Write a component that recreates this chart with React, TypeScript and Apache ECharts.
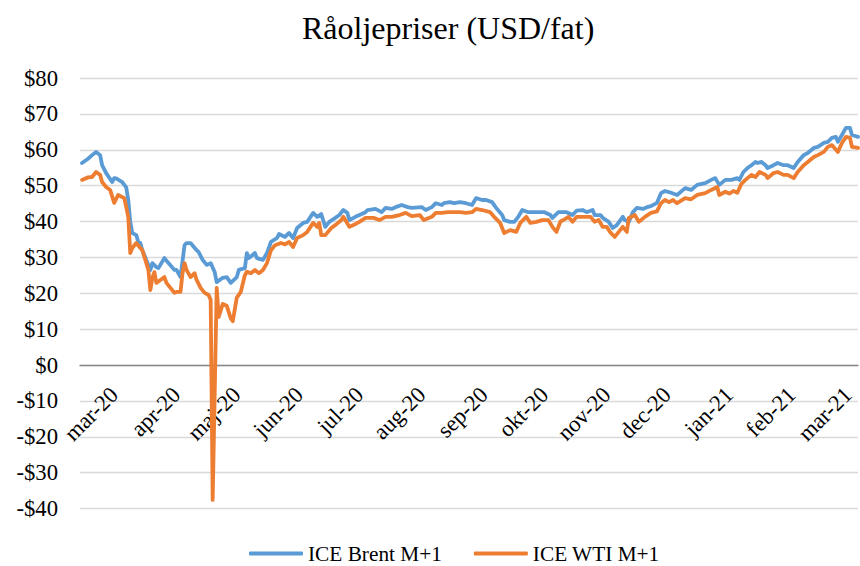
import React, { useEffect, useRef } from "react";
import * as echarts from "echarts";

const title = "Råoljepriser (USD/fat)";
const monthNames = ["jan", "feb", "mar", "apr", "maj", "jun", "jul", "aug", "sep", "okt", "nov", "dec"];
const yTicks = { min: -40, max: 80, interval: 10 };

const brentDates = [
  "2020-02-14","2020-02-17","2020-02-19","2020-02-21","2020-02-23","2020-02-24","2020-02-26","2020-02-29",
  "2020-03-01","2020-03-02","2020-03-05","2020-03-07","2020-03-08","2020-03-09","2020-03-10","2020-03-12",
  "2020-03-13","2020-03-14","2020-03-15","2020-03-17","2020-03-19","2020-03-20","2020-03-22","2020-03-23",
  "2020-03-26","2020-03-28","2020-03-31","2020-04-01","2020-04-03","2020-04-05","2020-04-06","2020-04-08",
  "2020-04-11","2020-04-12","2020-04-14","2020-04-16","2020-04-18","2020-04-20","2020-04-21","2020-04-24",
  "2020-04-26","2020-04-28","2020-05-01","2020-05-02","2020-05-05","2020-05-06","2020-05-07","2020-05-10",
  "2020-05-11","2020-05-14","2020-05-16","2020-05-18","2020-05-21","2020-05-22","2020-05-25","2020-05-27",
  "2020-05-29","2020-05-31","2020-06-03","2020-06-05","2020-06-08","2020-06-10","2020-06-12","2020-06-14",
  "2020-06-16","2020-06-19","2020-06-21","2020-06-23","2020-06-25","2020-06-26","2020-06-29","2020-07-01",
  "2020-07-04","2020-07-05","2020-07-09","2020-07-12","2020-07-14","2020-07-17","2020-07-19","2020-07-22",
  "2020-07-25","2020-07-27","2020-08-01","2020-08-03","2020-08-06","2020-08-08","2020-08-11","2020-08-12",
  "2020-08-15","2020-08-17","2020-08-20","2020-08-23","2020-08-26","2020-08-28","2020-08-31","2020-09-02",
  "2020-09-05","2020-09-07","2020-09-10","2020-09-11","2020-09-14","2020-09-16","2020-09-18","2020-09-20",
  "2020-09-23","2020-09-25","2020-09-29","2020-10-01","2020-10-04","2020-10-05","2020-10-08","2020-10-10",
  "2020-10-12","2020-10-15","2020-10-17","2020-10-20","2020-10-22","2020-10-25","2020-10-26","2020-10-29",
  "2020-10-30","2020-11-02","2020-11-04","2020-11-06","2020-11-09","2020-11-10","2020-11-12","2020-11-14",
  "2020-11-16","2020-11-19","2020-11-21","2020-11-23","2020-11-26","2020-11-28","2020-11-30","2020-12-02",
  "2020-12-06","2020-12-10","2020-12-13","2020-12-16","2020-12-20","2020-12-23","2020-12-25","2020-12-27",
  "2020-12-30","2021-01-02","2021-01-05","2021-01-06","2021-01-08","2021-01-10","2021-01-12","2021-01-14",
  "2021-01-15","2021-01-17","2021-01-19","2021-01-20","2021-01-23","2021-01-25","2021-01-28","2021-01-30",
  "2021-02-02","2021-02-04","2021-02-07","2021-02-09","2021-02-12","2021-02-14","2021-02-17","2021-02-19",
  "2021-02-21","2021-02-23","2021-02-24","2021-02-26","2021-02-28","2021-03-02","2021-03-03","2021-03-06"
];
const brentValues = [
  56.3, 57.5, 58.5, 59.4, 58.5, 55.7, 53.5, 51.0,
  52.1, 52.0, 51.0, 49.5, 46.0, 40.0, 36.8, 36.2,
  34.3, 34.0, 32.0, 29.3, 26.5, 28.4, 27.3, 27.0,
  29.8, 28.4, 26.5, 26.5, 24.5, 33.4, 34.0, 34.0,
  32.0, 31.5, 29.3, 27.9, 28.4, 25.9, 23.1, 24.3,
  24.5, 22.9, 24.5, 26.5, 27.0, 31.2, 29.8, 31.2,
  29.8, 29.3, 31.2, 34.3, 35.4, 36.5, 35.7, 36.8,
  35.4, 38.2, 39.6, 39.9, 42.4, 41.3, 42.1, 38.5,
  39.9, 41.0, 41.8, 43.2, 42.4, 40.4, 41.3, 41.8,
  42.6, 43.2, 43.5, 42.6, 43.8, 43.5, 44.0, 44.6,
  44.0, 43.8, 44.0, 43.2, 44.0, 45.1, 44.6, 45.1,
  45.4, 45.1, 45.4, 45.1, 44.6, 46.5, 46.0, 46.0,
  45.4, 43.8, 41.8, 40.4, 39.9, 39.9, 41.3, 43.2,
  42.6, 42.6, 42.6, 42.6, 41.8, 41.0, 42.6, 42.6,
  42.6, 41.8, 43.0, 43.2, 42.6, 43.2, 41.8, 41.8,
  41.0, 39.9, 38.2, 39.0, 41.3, 40.4, 39.9, 42.6,
  43.8, 43.5, 44.0, 44.3, 45.2, 47.9, 48.5, 48.2,
  47.4, 49.3, 48.8, 50.2, 50.7, 51.6, 52.1, 50.2,
  51.6, 51.6, 52.1, 51.6, 53.8, 54.9, 55.7, 56.6,
  56.3, 56.6, 55.7, 54.9, 55.7, 56.3, 55.7, 55.7,
  54.9, 56.6, 58.5, 59.1, 60.5, 60.8, 61.9, 62.2,
  63.3, 63.6, 62.2, 64.1, 66.1, 66.1, 64.1, 63.6
];

const wtiDates = [
  "2020-02-14","2020-02-17","2020-02-19","2020-02-21","2020-02-23","2020-02-24","2020-02-26","2020-02-28",
  "2020-03-01","2020-03-03","2020-03-06","2020-03-07","2020-03-08","2020-03-09","2020-03-10","2020-03-12",
  "2020-03-14","2020-03-15","2020-03-17","2020-03-18","2020-03-19","2020-03-20","2020-03-21","2020-03-22",
  "2020-03-24","2020-03-26","2020-03-27","2020-03-29","2020-03-31","2020-04-01","2020-04-03","2020-04-04",
  "2020-04-05","2020-04-06","2020-04-08","2020-04-10","2020-04-11","2020-04-13","2020-04-15","2020-04-17",
  "2020-04-18","2020-04-19","2020-04-21","2020-04-22","2020-04-24","2020-04-26","2020-04-28","2020-04-29",
  "2020-04-30","2020-05-01","2020-05-03","2020-05-05","2020-05-06","2020-05-08","2020-05-10","2020-05-12",
  "2020-05-14","2020-05-16","2020-05-18","2020-05-20","2020-05-23","2020-05-25","2020-05-27","2020-05-29",
  "2020-05-31","2020-06-03","2020-06-05","2020-06-08","2020-06-10","2020-06-11","2020-06-12","2020-06-14",
  "2020-06-17","2020-06-19","2020-06-22","2020-06-23","2020-06-26","2020-06-28","2020-07-01","2020-07-04",
  "2020-07-08","2020-07-11","2020-07-14","2020-07-17","2020-07-21","2020-07-24","2020-07-27","2020-07-31",
  "2020-08-02","2020-08-06","2020-08-08","2020-08-11","2020-08-14","2020-08-16","2020-08-20","2020-08-23",
  "2020-08-26","2020-08-28","2020-08-31","2020-09-04","2020-09-06","2020-09-09","2020-09-11","2020-09-14",
  "2020-09-17","2020-09-19","2020-09-22","2020-09-24","2020-09-27","2020-09-30","2020-10-03","2020-10-05",
  "2020-10-07","2020-10-09","2020-10-11","2020-10-13","2020-10-15","2020-10-17","2020-10-20","2020-10-24",
  "2020-10-26","2020-10-28","2020-10-30","2020-11-01","2020-11-03","2020-11-05","2020-11-07","2020-11-09",
  "2020-11-11","2020-11-12","2020-11-15","2020-11-17","2020-11-20","2020-11-23","2020-11-26","2020-11-28",
  "2020-11-30","2020-12-02","2020-12-04","2020-12-06","2020-12-10","2020-12-13","2020-12-16","2020-12-20",
  "2020-12-23","2020-12-26","2020-12-27","2020-12-30","2021-01-01","2021-01-03","2021-01-05","2021-01-07",
  "2021-01-09","2021-01-12","2021-01-14","2021-01-16","2021-01-19","2021-01-20","2021-01-23","2021-01-25",
  "2021-01-28","2021-01-30","2021-02-02","2021-02-04","2021-02-07","2021-02-09","2021-02-12","2021-02-14",
  "2021-02-17","2021-02-19","2021-02-21","2021-02-24","2021-02-26","2021-02-28","2021-03-02","2021-03-03",
  "2021-03-06"
];
const wtiValues = [
  51.6, 52.3, 52.4, 53.8, 53.0, 51.0, 49.6, 48.8,
  45.2, 47.4, 46.5, 44.0, 41.3, 31.2, 32.6, 34.0,
  32.6, 32.0, 28.4, 26.5, 20.9, 24.3, 25.9, 22.9,
  23.7, 24.5, 22.9, 21.5, 20.1, 20.4, 20.4, 25.6,
  28.4, 26.5, 24.5, 25.6, 23.7, 21.5, 20.1, 19.5,
  18.1, -37.6, 21.5, 13.4, 17.0, 16.5, 13.0, 12.2,
  15.5, 18.8, 20.4, 25.0, 26.0, 25.6, 26.5, 25.6,
  26.5, 28.4, 32.0, 33.4, 34.0, 33.6, 34.3, 32.9,
  35.4, 36.2, 37.1, 39.6, 38.5, 39.6, 36.2, 36.2,
  38.2, 39.0, 40.4, 41.3, 38.5, 39.0, 39.9, 41.0,
  41.0, 40.4, 41.3, 41.3, 41.8, 42.4, 41.5, 41.8,
  40.4, 41.3, 42.4, 42.4, 42.6, 42.6, 42.6, 42.4,
  42.6, 43.5, 43.2, 42.6, 41.3, 39.6, 36.8, 37.6,
  37.1, 39.6, 41.3, 39.6, 39.9, 40.4, 40.4, 38.5,
  37.1, 40.0, 40.6, 41.3, 39.9, 41.3, 41.3, 41.3,
  39.9, 40.4, 38.5, 38.5, 36.8, 35.7, 37.1, 38.5,
  37.1, 41.0, 41.8, 39.9, 41.3, 42.4, 42.8, 45.1,
  46.0, 45.4, 46.0, 45.1, 46.5, 46.2, 47.4, 47.9,
  48.8, 49.6, 47.4, 48.3, 47.8, 48.5, 48.0, 50.5,
  51.6, 53.0, 52.4, 53.8, 53.0, 52.1, 53.5, 53.8,
  53.0, 53.0, 52.1, 53.8, 55.7, 56.6, 58.0, 58.5,
  59.4, 60.8, 61.3, 59.4, 61.9, 63.6, 63.3, 60.8,
  60.5
];

const xMin = "2020-02-13";
const xMax = "2021-03-06";
const monthTickStarts = [
  "2020-03-01", "2020-04-01", "2020-05-01", "2020-06-01", "2020-07-01", "2020-08-01", "2020-09-01",
  "2020-10-01", "2020-11-01", "2020-12-01", "2021-01-01", "2021-02-01", "2021-03-01"
];

const FONT = "'Liberation Serif', 'Times New Roman', serif";
const DAY = 86400000;

function toDay(s: string): number {
  const [y, m, d] = s.split("-").map(Number);
  return Date.UTC(y, m - 1, d) / DAY;
}

function dayLabel(v: number): string {
  const dt = new Date(Math.round(v) * DAY);
  return monthNames[dt.getUTCMonth()] + "-" + String(dt.getUTCFullYear()).slice(2);
}

export default function App() {
  const ref = useRef<HTMLDivElement>(null);
  useEffect(() => {
    document.body.style.margin = "0";
    if (!ref.current) return;
    const chart = echarts.init(ref.current, null, { renderer: "svg" });
    const brentData = brentDates.map((d, i) => [toDay(d), brentValues[i]]);
    const wtiData = wtiDates.map((d, i) => [toDay(d), wtiValues[i]]);
    const tickValues = monthTickStarts.map(toDay);
    const labelStyle = {
      fontFamily: FONT,
      fontSize: 22.7,
      color: "#000000",
    };
    chart.setOption({
      animation: false,
      backgroundColor: "#ffffff",
      title: {
        text: title,
        left: 297,
        top: 7,
        textStyle: { fontFamily: FONT, fontSize: 32, fontWeight: "normal", color: "#000000" },
      },
      legend: {
        top: 538,
        left: 244,
        itemWidth: 54,
        itemHeight: 4,
        itemGap: 32,
        icon: "roundRect",
        textStyle: { fontFamily: FONT, fontSize: 21.3, color: "#000000" },
        data: ["ICE Brent M+1", "ICE WTI M+1"],
      },
      grid: [
        { left: 80, right: 2, top: 78, bottom: 57.5 },
        { left: 80, right: 2, top: 78, height: 287 },
      ],
      xAxis: [
        {
          type: "value",
          gridIndex: 0,
          min: toDay(xMin),
          max: toDay(xMax),
          axisLine: { onZero: true, lineStyle: { color: "#878787", width: 1.3 } },
          axisTick: { show: false },
          splitLine: { show: false },
          axisLabel: { show: false },
        },
        {
          type: "value",
          gridIndex: 1,
          min: toDay(xMin),
          max: toDay(xMax),
          axisLine: { show: false },
          axisTick: { show: false },
          splitLine: { show: false },
          axisLabel: {
            ...labelStyle,
            customValues: tickValues,
            rotate: 45,
            margin: 26,
            formatter: (v: number) => dayLabel(v),
          },
        },
      ],
      yAxis: [
        {
          type: "value",
          gridIndex: 0,
          min: yTicks.min,
          max: yTicks.max,
          interval: yTicks.interval,
          axisLine: { show: false },
          axisTick: { show: false },
          splitLine: { lineStyle: { color: "#d9d9d9", width: 1.3 } },
          axisLabel: {
            ...labelStyle,
            margin: 22,
            formatter: (v: number) => (v < 0 ? "-$" + Math.abs(v) : "$" + v),
          },
        },
        {
          type: "value",
          gridIndex: 1,
          min: 0,
          max: 1,
          show: false,
        },
      ],
      series: [
        {
          name: "ICE Brent M+1",
          type: "line",
          xAxisIndex: 0,
          yAxisIndex: 0,
          data: brentData,
          symbol: "none",
          showSymbol: false,
          lineStyle: { color: "#5B9BD5", width: 3.8, join: "round", cap: "round" },
          itemStyle: { color: "#5B9BD5" },
        },
        {
          name: "ICE WTI M+1",
          type: "line",
          xAxisIndex: 0,
          yAxisIndex: 0,
          data: wtiData,
          symbol: "none",
          showSymbol: false,
          lineStyle: { color: "#ED7D31", width: 3.8, join: "round", cap: "round" },
          itemStyle: { color: "#ED7D31" },
        },
      ],
    });
    return () => chart.dispose();
  }, []);
  return <div ref={ref} style={{ width: 860, height: 566 }} />;
}
